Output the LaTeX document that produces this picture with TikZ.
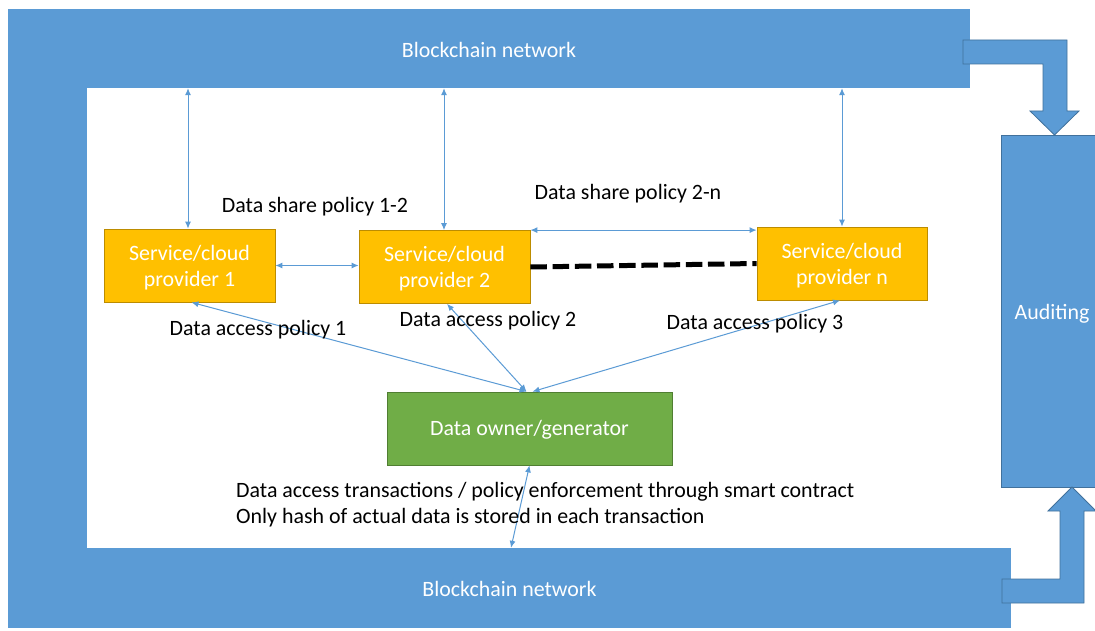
\documentclass[tikz,border=0pt]{standalone}
\usepackage{fontspec}
\setmainfont{Carlito}
\usetikzlibrary{arrows.meta}
\definecolor{bblue}{HTML}{5B9BD5}
\definecolor{bedge}{HTML}{41719C}
\definecolor{gold}{HTML}{FFC000}
\definecolor{goldedge}{HTML}{BC8C00}
\definecolor{grn}{HTML}{70AD47}
\definecolor{grnedge}{HTML}{507E32}
\begin{document}
\begin{tikzpicture}[x=1pt,y=-1pt,
  font=\fontsize{21.9}{26}\selectfont,
  link/.style={draw=bblue, line width=1pt, {Latex[length=7pt,width=6pt]}-{Latex[length=7pt,width=6pt]}},
  bar/.style={fill=bblue, draw=none, text=white, inner sep=0pt},
  prov/.style={draw=goldedge, line width=0.8pt, fill=gold, inner sep=0pt, minimum width=171pt, minimum height=73pt},
  owner/.style={draw=grnedge, line width=0.8pt, fill=grn, text=white, inner sep=0pt, minimum width=285pt, minimum height=73pt},
  wtxt/.style={text=white, align=center, inner sep=0pt},
  bent/.style={fill=bblue, draw=bedge, line width=0.8pt},
  lbl/.style={text=black, inner sep=0pt}]
\useasboundingbox (0,0) rectangle (1095,631);
\fill[white] (0,0) rectangle (1095,631);
% frame
\node[bar, minimum width=962pt, minimum height=79pt] (topbar) at (489,48.5) {};
\node[wtxt] (toptxt) at (489,49.5) {Blockchain network};
\node[bar, minimum width=1003pt, minimum height=80pt] (botbar) at (509.5,588) {};
\node[wtxt] (bottxt) at (509.5,588.5) {Blockchain network};
\fill[bblue] (8,87) rectangle (87,549);
% auditing
\node[bar, draw=bedge, line width=0.8pt, minimum width=102pt, minimum height=352pt] (audit) at (1052,311) {};
\node[wtxt] (audtxt) at (1052,313.5) {Auditing};
% bent arrows
\draw[bent] (963,40) -- (1067,40) -- (1067,111) -- (1079,111) -- (1054.5,135) -- (1030,111) -- (1043,111) -- (1043,64) -- (963,64) -- cycle;
\draw[bent] (1002,579) -- (1060,579) -- (1060,511) -- (1048,511) -- (1072,487) -- (1096,511) -- (1084,511) -- (1084,603) -- (1002,603) -- cycle;
% providers
\node[prov] (p1) at (189.5,265.5) {};
\node[wtxt] (p1t) at (189.5,267.5) {Service/cloud\\provider 1};
\node[prov] (p2) at (444.5,267) {};
\node[wtxt] (p2t) at (444.5,269) {Service/cloud\\provider 2};
\node[prov, minimum width=170pt] (pn) at (842,263.5) {};
\node[wtxt] (pnt) at (842,265.5) {Service/cloud\\provider n};
\node[owner] (own) at (529.5,428.5) {};
\node[wtxt] (ownt) at (529.5,430) {Data owner/generator};
% links to top bar
\draw[link] (p1.north -| 188,0) -- (topbar.south -| 188,0);
\draw[link] (p2.north -| 444,0) -- (topbar.south -| 444,0);
\draw[link] (pn.north) -- (topbar.south -| pn.north);
% provider links
\draw[link] (p1.east) -- (p2.west |- p1.east);
\draw[link] (p2.north east) -- (pn.west |- p2.north east);
\draw[line width=5pt, dash pattern=on 16.5pt off 5.7pt] (p2.east) -- (pn.west);
% owner links
\draw[link] ([xshift=-3pt]own.north) -- ([xshift=2pt]p1.south);
\draw[link] ([xshift=-3pt]own.north) -- ([xshift=2.5pt]p2.south);
\draw[link] ([xshift=3pt]own.north) -- ([xshift=-2pt]pn.south);
\draw[link] (own.south) -- (botbar.north -| 511,0);
% labels
\node[lbl] (l12) at (315,207) {Data share policy 1-2};
\node[lbl] (l2n) at (628,194) {Data share policy 2-n};
\node[lbl] (a1) at (258,330) {Data access policy 1};
\node[lbl] (a2) at (488,321) {Data access policy 2};
\node[lbl] (a3) at (755,324) {Data access policy 3};
\node[lbl, anchor=west, align=left] (tx) at (236,504.5) {Data access transactions / policy enforcement through smart contract\\Only hash of actual data is stored in each transaction};
\end{tikzpicture}
\end{document}
